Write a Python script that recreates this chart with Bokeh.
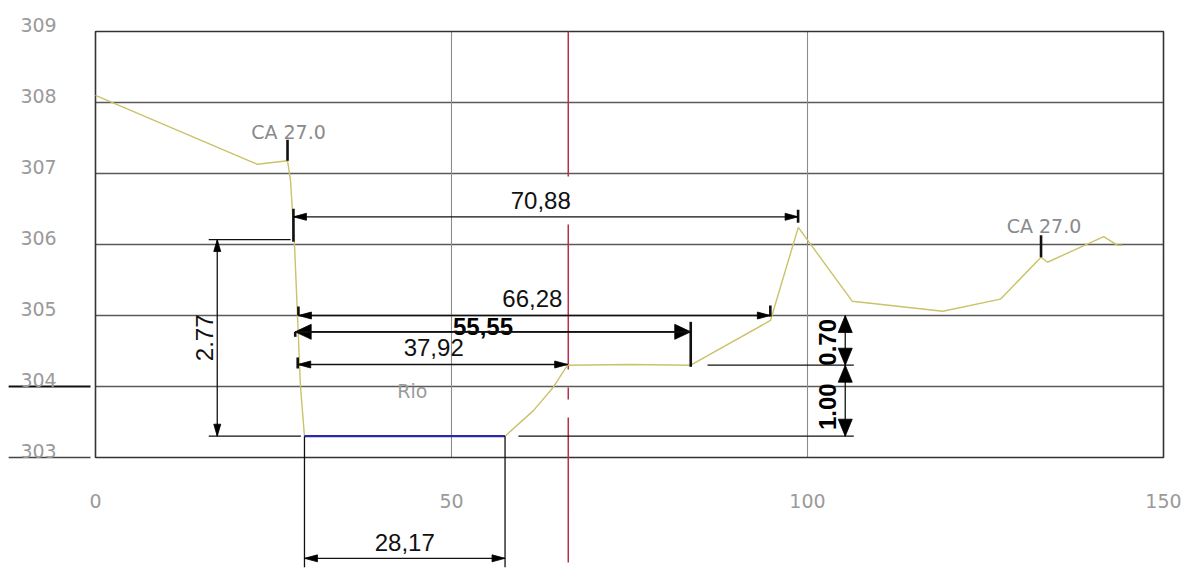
import math
from bokeh.plotting import figure
from bokeh.models import Range1d
from bokeh.embed import file_html
from bokeh.resources import INLINE
from bokeh.core.properties import value

# ---------------- data ----------------
terrain_x = [0.0, 22.75, 26.97, 27.39, 27.95, 28.37, 28.79, 29.35, 57.52, 61.5, 64.3, 66.3,
             75.0, 83.6, 94.8, 98.7, 106.3, 119.0, 127.1, 132.8, 133.7, 141.6, 143.5, 144.2]
terrain_y = [308.10, 307.13, 307.18, 306.90, 306.00, 305.00, 304.00, 303.30, 303.30, 303.66, 303.99, 304.30,
             304.31, 304.30, 304.93, 306.24, 305.20, 305.06, 305.23, 305.82, 305.75, 306.11, 305.99, 305.99]

water_x = [29.35, 57.52]
water_level = 303.30

x_ticks = [0, 50, 100, 150]
y_ticks = [303, 304, 305, 306, 307, 308, 309]
grid_x = [50, 100]
grid_y = [304, 305, 306, 307, 308]
center_x = 66.4

hdim_labels = ["70,88", "66,28", "55,55", "37,92", "28,17"]
hdim_start = [27.80, 28.50, 28.05, 28.40, 29.35]
hdim_length = [70.88, 66.28, 55.55, 37.92, 28.17]
hdim_level = [306.39, 305.00, 304.77, 304.31, 301.58]

vdim_labels = ["2.77", "0.70", "1.00"]
vdim_x = [17.1, 105.3, 105.3]
vdim_bottom = [303.30, 304.30, 303.30]
vdim_length = [2.77, 0.70, 1.00]

station_labels = ["CA 27.0", "CA 27.0"]
station_x = [26.97, 132.8]
station_y = [307.18, 305.82]

river_label = "Rio"
river_x, river_y = 44.5, 303.94

# ---------------- layout ----------------
W, H = 1183, 576
X0, X1 = -95 / 7.12, (1183 - 95) / 7.12
Y0, Y1 = 303 - (576 - 457) / 71.0, 303 + 457 / 71.0
KX = W / (X1 - X0)
KY = H / (Y1 - Y0)
LABEL_X = -8.0

p = figure(width=W, height=H, x_range=Range1d(X0, X1), y_range=Range1d(Y0, Y1),
           output_backend="svg", toolbar_location=None, min_border=0,
           x_axis_location=None, y_axis_location=None)
p.grid.visible = False
p.outline_line_color = None
p.background_fill_color = "white"
p.border_fill_color = "white"

GRAY_FONT = value("DejaVu Sans")
DIM_FONT = value("Liberation Sans")

# grid
p.segment(x0=[x_ticks[0]] * len(grid_y), y0=grid_y, x1=[x_ticks[-1]] * len(grid_y), y1=grid_y,
          line_color="#5a5a5a", line_width=1.3)
p.segment(x0=grid_x, y0=[y_ticks[0]] * len(grid_x), x1=grid_x, y1=[y_ticks[-1]] * len(grid_x),
          line_color="#8c8c8c", line_width=1.1)
p.quad(left=[x_ticks[0]], right=[x_ticks[-1]], bottom=[y_ticks[0]], top=[y_ticks[-1]],
       fill_color=None, line_color="#333333", line_width=1.6)

# label underlines (left of frame) for 303 and 304
p.segment(x0=[-12.2, -12.2], y0=[303, 304], x1=[-0.7, -0.7], y1=[303, 304],
          line_color=["#444444", "#111111"], line_width=[1.5, 2.2])

# red centre line
p.segment(x0=[center_x], y0=[y_ticks[-1]], x1=[center_x], y1=[Y0],
          line_color="#b3304e", line_width=1.5, line_dash="145 18 12 18")

# terrain and water
p.line(terrain_x, terrain_y, line_color="#cbc26a", line_width=1.4)
p.line(water_x, [water_level, water_level], line_color="#2a2aa8", line_width=2.2)

# ---------------- dimensions ----------------
sx0, sy0, sx1, sy1 = [], [], [], []
tx0, ty0, tx1, ty1 = [], [], [], []
heads_x, heads_y = [], []


def seg(a, b, c, d):
    sx0.append(a); sy0.append(b); sx1.append(c); sy1.append(d)


def tick(a, b, c, d):
    tx0.append(a); ty0.append(b); tx1.append(c); ty1.append(d)


def head(tx, ty, dx, dy, length, half):
    bx, by = -dx * length, -dy * length
    nx, ny = -dy, dx
    pts = [(0, 0), (bx + nx * half, by + ny * half), (bx - nx * half, by - ny * half)]
    heads_x.append([tx + a / KX for a, b in pts])
    heads_y.append([ty + b / KY for a, b in pts])


# tick extents (px above / below the dimension line) at start and end
tick_px = [((8, 25), (7, 6)), ((9, 0), (10, 1)), ((0, 5), (10, 35)), ((7, 4), None), (None, None)]
big = [False, False, True, False, False]
for i in range(len(hdim_labels)):
    xa = hdim_start[i]
    xb = hdim_start[i] + hdim_length[i]
    yy = hdim_level[i]
    seg(xa, yy, xb, yy)
    L, hw = (16, 7.5) if big[i] else (13, 3.5)
    head(xa, yy, -1, 0, L, hw)
    head(xb, yy, 1, 0, L, hw)
    for xt, ext in ((xa, tick_px[i][0]), (xb, tick_px[i][1])):
        if ext:
            up, dn = ext
            tick(xt, yy + up / KY, xt, yy - dn / KY)

# 28,17 extension lines from the river bed down past the dimension line
for xe in water_x:
    seg(xe, water_level, xe, hdim_level[4] - 9 / KY)

# vertical dimensions
for i in range(len(vdim_labels)):
    xv = vdim_x[i]
    ya = vdim_bottom[i]
    yb = vdim_bottom[i] + vdim_length[i]
    seg(xv, ya, xv, yb)
    L, hw = (12, 3.5) if i == 0 else (17, 7)
    head(xv, yb, 0, 1, L, hw)
    head(xv, ya, 0, -1, L, hw)

# extension lines of vertical dimensions
seg(vdim_x[0] - 1.2, vdim_bottom[0] + vdim_length[0], 27.4, vdim_bottom[0] + vdim_length[0])
seg(vdim_x[0] - 1.2, vdim_bottom[0], water_x[0] - 0.5, vdim_bottom[0])
seg(85.96, vdim_bottom[1], vdim_x[1] + 1.2, vdim_bottom[1])
seg(59.4, vdim_bottom[2], vdim_x[2] + 1.2, vdim_bottom[2])

# station ticks
tick(station_x[0], station_y[0], station_x[0], station_y[0] + 21 / KY)
tick(station_x[1], station_y[1], station_x[1], station_y[1] + 22 / KY)

p.segment(x0=sx0, y0=sy0, x1=sx1, y1=sy1, line_color="#111111", line_width=1.3)
p.segment(x0=tx0, y0=ty0, x1=tx1, y1=ty1, line_color="#111111", line_width=2.6)
p.patches(heads_x, heads_y, fill_color="black", line_color="black", line_width=0.8)

# ---------------- texts ----------------
# axis labels (CAD-like gray)
p.text(x=[LABEL_X] * len(y_ticks), y=y_ticks, text=[str(v) for v in y_ticks],
       text_align="center", text_baseline="middle", y_offset=-6.5,
       text_font=GRAY_FONT, text_font_size=value("19px"), text_color="#9a9a9a")
p.text(x=x_ticks, y=[y_ticks[0]] * len(x_ticks), text=[str(v) for v in x_ticks],
       text_align="center", text_baseline="middle", y_offset=43,
       text_font=GRAY_FONT, text_font_size=value("19px"), text_color="#9a9a9a")

# station labels
p.text(x=station_x, y=station_y, text=station_labels, text_align="center",
       text_baseline="middle", y_offset=[-29, -31], x_offset=[1, 3],
       text_font=GRAY_FONT, text_font_size=value("19px"), text_color="#8a8a8a")

p.text(x=[river_x], y=[river_y], text=[river_label], text_align="center",
       text_baseline="middle", text_font=GRAY_FONT, text_font_size=value("19px"),
       text_color="#9a9a9a")

# horizontal dimension labels
mids = [hdim_start[i] + hdim_length[i] / 2 for i in range(len(hdim_labels))]
normal_idx = [0, 1, 3, 4]
p.text(x=[mids[i] for i in normal_idx], y=[hdim_level[i] for i in normal_idx],
       text=[hdim_labels[i] for i in normal_idx], x_offset=[-5, -2, 1, 0],
       y_offset=[-16, -17, -16.5, -16],
       text_align="center", text_baseline="middle",
       text_font=DIM_FONT, text_font_size=value("24px"), text_color="#111111")
p.text(x=[mids[2]], y=[hdim_level[2]], text=[hdim_labels[2]], x_offset=-10, y_offset=-5,
       text_align="center", text_baseline="middle", text_font_style="bold",
       text_font=DIM_FONT, text_font_size=value("24px"), text_color="#000000")

# redraw the 55,55 line over its label (as in the drawing)
p.segment(x0=[hdim_start[2]], y0=[hdim_level[2]], x1=[hdim_start[2] + hdim_length[2]],
          y1=[hdim_level[2]], line_color="#111111", line_width=1.6)

# vertical dimension labels
vmids = [vdim_bottom[i] + vdim_length[i] / 2 for i in range(len(vdim_labels))]
p.text(x=[vdim_x[0]], y=[vmids[0]], text=[vdim_labels[0]], angle=math.pi / 2,
       x_offset=-13, text_align="center", text_baseline="middle",
       text_font=DIM_FONT, text_font_size=value("24px"), text_color="#111111")
p.text(x=vdim_x[1:], y=vmids[1:], text=vdim_labels[1:], angle=math.pi / 2,
       x_offset=-18, y_offset=[2, 6], text_align="center", text_baseline="middle",
       text_font_style="bold", text_font=DIM_FONT, text_font_size=value("24px"),
       text_color="#000000")

open("out.html", "w").write(file_html(p, INLINE))
